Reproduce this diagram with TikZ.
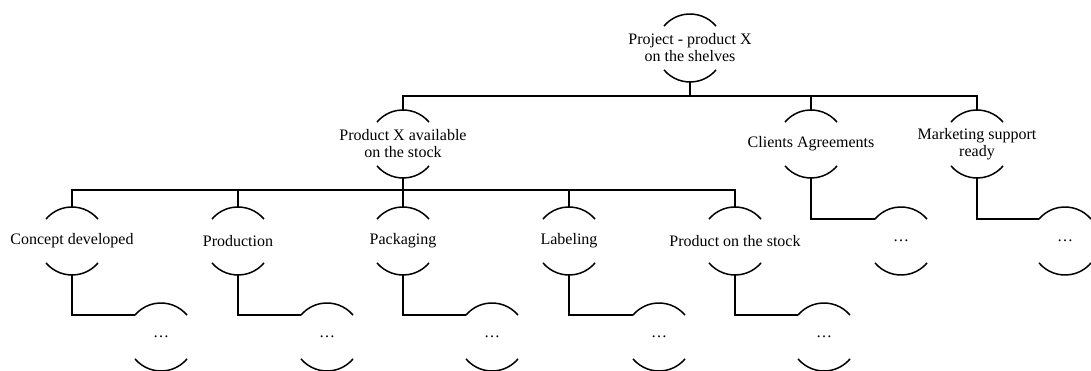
\documentclass[tikz,border=0pt]{standalone}
\usepackage{fontspec}
\setmainfont{Liberation Serif}

\begin{document}
\begin{tikzpicture}[x=1pt,y=1pt,
    goal/.style={align=center,inner sep=0pt,font=\fontsize{16}{17}\selectfont},
    link/.style={line width=1.5pt},
    halfarc/.style={line width=1.5pt}]
\useasboundingbox (0,0) rectangle (1091,371);
    % oberstes Ziel:
    \node[goal] (proj) at (690,323) {Project - product X\\on the shelves};
    % zweite Ebene:
    \node[goal] (avail) at (403,227) {Product X available\\on the stock};
    \node[goal] (clients) at (811,227) {Clients Agreements};
    \node[goal] (market) at (977,227) {Marketing support\\ready};
    % dritte Ebene:
    \node[goal] (concept) at (72,130) {Concept developed};
    \node[goal] (prod) at (238,130) {Production};
    \node[goal] (pack) at (403,130) {Packaging};
    \node[goal] (label) at (569,130) {Labeling};
    \node[goal] (stock) at (735,130) {Product on the stock};
    \node[goal] (clientssub) at (901,130) {\dots};
    \node[goal] (marketsub) at (1065,130) {\dots};
    % unterste Ebene:
    \node[goal] (conceptsub) at (161,34) {\dots};
    \node[goal] (prodsub) at (327,34) {\dots};
    \node[goal] (packsub) at (492,34) {\dots};
    \node[goal] (labelsub) at (659,34) {\dots};
    \node[goal] (stocksub) at (824,34) {\dots};
% Boegen oben und unten
\foreach \n in {proj,avail,clients,market,concept,prod,pack,label,stock,
                clientssub,marketsub,conceptsub,prodsub,packsub,labelsub,stocksub}{
    \draw[halfarc] ([shift={(40:34pt)}]\n.center) arc (40:140:34pt); % oben
    \draw[halfarc] ([shift={(220:34pt)}]\n.center) arc (220:320:34pt); % unten
}
    % Verbindungen:
    \coordinate (bus1) at (690,275);
    \coordinate (bus2) at (403,181);
\draw[link] ([yshift=-34pt]proj.center) -- (bus1);
\foreach \n in {avail,clients,market}
    \draw[link] (bus1) -| ([yshift=34pt]\n.center);
\draw[link] ([yshift=-34pt]avail.center) -- (bus2);
\foreach \n in {concept,prod,pack,label,stock}
    \draw[link] (bus2) -| ([yshift=34pt]\n.center);
\foreach \n in {concept,prod,pack,label,stock,clients,market}
    \draw[link] ([yshift=-34pt]\n.center) |- ([shift={(140:34pt)}]\n sub.center);
\end{tikzpicture}
\end{document}
